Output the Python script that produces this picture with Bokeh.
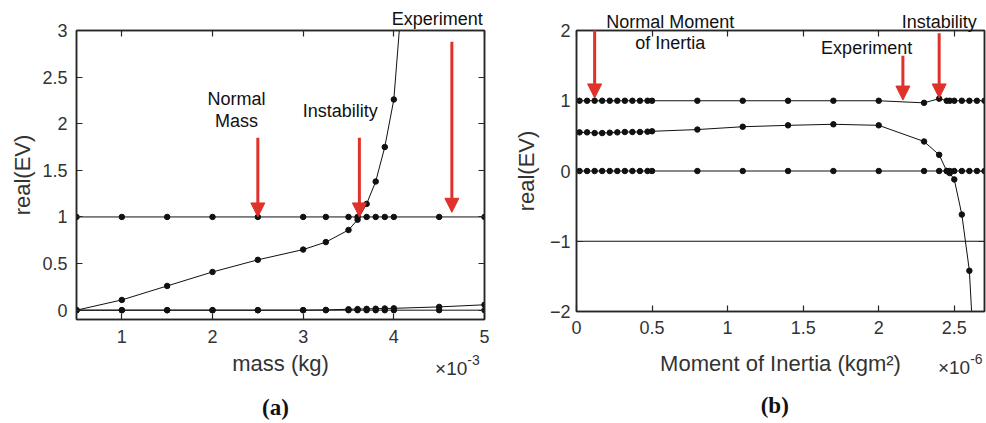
from bokeh.plotting import figure
from bokeh.layouts import row
from bokeh.models import (Arrow, NormalHead, Label, LinearAxis, FixedTicker,
                          Range1d, CustomJSTickFormatter)
from bokeh.embed import file_html
from bokeh.resources import INLINE

# ---------------- (a) mass sweep (mass in units of 1e-3 kg) ----------------
mass = [0.5, 1, 1.5, 2, 2.5, 3, 3.25, 3.5, 3.6, 3.7, 3.8, 3.9, 4, 4.5, 5]
ev_a_one = [1, 1, 1, 1, 1, 1, 1, 1, 1, 1, 1, 1, 1, 1, 1]
ev_a_rise = [0.0, 0.11, 0.26, 0.41, 0.54, 0.65, 0.73, 0.86, 0.97, 1.14, 1.38, 1.75, 2.26, 8.4]
ev_a_zero = [0, 0, 0, 0, 0, 0, 0, 0, 0, 0, 0, 0, 0, 0, 0]
ev_a_low = [0, 0, 0, 0, 0, 0, 0.003, 0.01, 0.012, 0.014, 0.016, 0.018, 0.02, 0.035, 0.058]

# ---------------- (b) moment of inertia sweep (units of 1e-6 kgm^2) ----------------
inertia = [0.02, 0.07, 0.12, 0.17, 0.22, 0.27, 0.32, 0.37, 0.42, 0.47, 0.5,
           0.8, 1.1, 1.4, 1.7, 2.0, 2.3, 2.4, 2.45, 2.47, 2.5, 2.55, 2.6, 2.65, 2.7]
ev_b_one = [1, 1, 1, 1, 1, 1, 1, 1, 1, 1, 1,
            1, 1, 1, 1, 1, 0.97, 1.03, 1, 1, 1, 1, 1, 1, 1]
ev_b_mid = [0.55, 0.55, 0.54, 0.54, 0.545, 0.55, 0.555, 0.555, 0.555, 0.56, 0.565,
            0.59, 0.63, 0.65, 0.665, 0.65, 0.42, 0.23, 0.0, -0.03, -0.12, -0.62, -1.42, -3.4]
ev_b_zero = [0, 0, 0, 0, 0, 0, 0, 0, 0, 0, 0,
             0, 0, 0, 0, 0, 0, 0, 0, 0, 0, 0, 0, 0, 0]
ref_b_x = [0, 2.7]
ref_b_y = [-1, -1]

a_xticks = [1, 2, 3, 4, 5]
a_yticks = [0, 0.5, 1, 1.5, 2, 2.5, 3]
b_xticks = [0, 0.5, 1, 1.5, 2, 2.5]
b_yticks = [-2, -1, 0, 1, 2]

FONT = "Liberation Sans"
AX = "#262626"
TXT = "#333333"
RED = "#e0312a"


def style(p, xt, yt):
    p.grid.visible = False
    p.outline_line_color = AX
    p.outline_line_width = 1.5
    xa, ya = p.below[0], p.left[0]
    for ax, ticks in ((xa, xt), (ya, yt)):
        ax.ticker = FixedTicker(ticks=ticks)
        ax.major_tick_in = 6
        ax.major_tick_out = 0
        ax.minor_tick_line_color = None
        ax.axis_line_color = AX
        ax.axis_line_width = 1.5
        ax.major_tick_line_color = AX
        ax.major_tick_line_width = 1.2
        ax.major_label_text_font = FONT
        ax.major_label_text_font_size = "18px"
        ax.major_label_text_color = TXT
        ax.axis_label_text_font = FONT
        ax.axis_label_text_font_size = "22px"
        ax.axis_label_text_font_style = "normal"
        ax.axis_label_text_color = TXT
    for loc, ticks in (("above", xt), ("right", yt)):
        m = LinearAxis(ticker=FixedTicker(ticks=ticks),
                       formatter=CustomJSTickFormatter(code="return ''"),
                       major_tick_in=6, major_tick_out=0,
                       minor_tick_line_color=None,
                       major_label_standoff=0,
                       major_label_text_font_size="1px",
                       axis_line_color=AX, axis_line_width=1.5,
                       major_tick_line_color=AX, major_tick_line_width=1.2)
        p.add_layout(m, loc)
    return xa, ya


def series(p, x, y, markers=True):
    p.line(x, y, line_color="#111111", line_width=1)
    if markers:
        p.scatter(x, y, size=5.5, fill_color="#111111", line_color="#111111")


def lab(p, x, y, text, size="18px", align="center", font=FONT, style_="normal",
        color="#111111", place="center"):
    lb = Label(x=x, y=y, text=text, text_font=font, text_font_size=size,
               text_align=align, text_baseline="middle",
               text_font_style=style_, text_color=color)
    p.add_layout(lb, place)


def arrow(p, x, y0, y1):
    p.add_layout(Arrow(x_start=x, y_start=y0, x_end=x, y_end=y1,
                       line_color=RED, line_width=3,
                       end=NormalHead(size=14, fill_color=RED, line_color=RED, line_width=1)))


# ---------------- figure (a) ----------------
pa = figure(frame_width=408, frame_height=289, min_border_left=76, min_border_right=9,
            min_border_top=30, min_border_bottom=104,
            x_range=Range1d(0.5, 5), y_range=Range1d(-0.1, 3),
            output_backend="svg", toolbar_location=None)
xa, ya = style(pa, a_xticks, a_yticks)
xa.axis_label = "mass (kg)"
ya.axis_label = "real(EV)"
xa.major_label_standoff = 10
xa.axis_label_standoff = 5
ya.major_label_standoff = 9
ya.axis_label_standoff = 4

series(pa, mass, ev_a_one)
series(pa, mass, ev_a_zero)
series(pa, mass, ev_a_low)
series(pa, mass[:len(ev_a_rise)], ev_a_rise)

arrow(pa, 2.5, 1.85, 1.0)
arrow(pa, 3.62, 1.85, 1.0)
arrow(pa, 4.64, 2.88, 1.05)
lab(pa, 2.265, 2.27, "Normal")
lab(pa, 2.265, 2.03, "Mass")
lab(pa, 3.41, 2.14, "Instability")
# texts outside the plot box live in the bottom side panel (not clipped)
lab(pa, 4.48, 3.12, "Experiment", place="below")
lab(pa, 4.81, -0.63, "\u00d710", size="19px", align="right", color=TXT, place="below")
lab(pa, 4.81, -0.535, "-3", size="14px", align="left", color=TXT, place="below")
lab(pa, 2.695, -1.04, "(a)", size="23px", font="Liberation Serif", style_="bold", place="below")

# ---------------- figure (b) ----------------
pb = figure(frame_width=408, frame_height=281, min_border_left=83, min_border_right=2,
            min_border_top=30, min_border_bottom=112,
            x_range=Range1d(0, 2.7), y_range=Range1d(-2, 2),
            output_backend="svg", toolbar_location=None)
xb, yb = style(pb, b_xticks, b_yticks)
xb.axis_label = "Moment of Inertia (kgm\u00b2)"
yb.axis_label = "real(EV)"
xb.major_label_standoff = 9
xb.axis_label_standoff = 14
yb.major_label_standoff = 6
yb.axis_label_standoff = 8

series(pb, ref_b_x, ref_b_y, markers=False)
series(pb, inertia, ev_b_one)
series(pb, inertia, ev_b_zero)
series(pb, inertia[:len(ev_b_mid)], ev_b_mid)

arrow(pb, 0.12, 2.18, 1.04)
arrow(pb, 2.16, 1.64, 1.01)
arrow(pb, 2.40, 1.96, 1.04)
lab(pb, 0.62, 1.82, "of Inertia")
lab(pb, 1.92, 1.75, "Experiment")
lab(pb, 0.62, 2.12, "Normal Moment", place="below")
lab(pb, 2.40, 2.12, "Instability", place="below")
lab(pb, 2.605, -2.8, "\u00d710", size="19px", align="right", color=TXT, place="below")
lab(pb, 2.605, -2.67, "-6", size="14px", align="left", color=TXT, place="below")
lab(pb, 1.312, -3.343, "(b)", size="23px", font="Liberation Serif", style_="bold", place="below")

layout = row(pa, pb, spacing=0)
open("out.html", "w").write(file_html(layout, INLINE))
